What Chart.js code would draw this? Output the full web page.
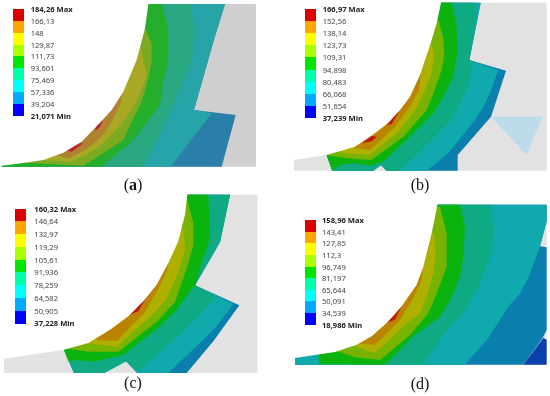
<!DOCTYPE html>
<html>
<head>
<meta charset="utf-8">
<script src="https://cdn.jsdelivr.net/npm/chart.js@4"></script>
<style>
html, body { margin: 0; background: #fff; }
#page { position: relative; width: 550px; height: 396px; overflow: hidden; }
.panel { position: absolute; }
.panel canvas { filter: blur(0.6px); }
.swatch { position: absolute; width: 11px; }
.tick { position: absolute; font: 7.6px "Noto Sans", sans-serif; color: #444; line-height: 10px; white-space: nowrap; transform: translateY(-5px); filter: blur(0.2px); }
.tick.end { font-weight: 700; color: #222; }
.caption { position: absolute; font: 16px "Liberation Serif", serif; color: #111; transform: translateX(-50%); }
</style>
</head>
<body>
<div id="page"></div>
<script>
// stress scale of each model (Max first, Min last)
const ticksA = ['184,26 Max', '166,13', '148', '129,87', '111,73', '93,601', '75,469', '57,336', '39,204', '21,071 Min'];
const ticksB = ['166,97 Max', '152,56', '138,14', '123,73', '109,31', '94,898', '80,483', '66,068', '51,654', '37,239 Min'];
const ticksC = ['160,32 Max', '146,64', '132,97', '119,29', '105,61', '91,936', '78,259', '64,582', '50,905', '37,228 Min'];
const ticksD = ['158,96 Max', '143,41', '127,85', '112,3', '96,749', '81,197', '65,644', '50,091', '34,539', '18,986 Min'];
const scaleColors = ['#dc0000', '#ffa500', '#ffff00', '#aaff00', '#00e600', '#00ffaa', '#00ffff', '#00aaff', '#0000ff'];

// contour outlines in model units
const aBody = [[445,12],[768,12],[768,500],[5,500],[5,497],[200,300]];
const aBlue = [[445,12],[675,12],[640,125],[582,330],[707,345],[665,500],[5,500],[5,497],[200,300]];
const aCyan = [[445,12],[675,12],[640,125],[582,330],[635,340],[512,500],[5,500],[5,497],[200,300]];
const aTeal = [[445,12],[572,12],[585,100],[575,180],[540,270],[510,340],[470,420],[430,500],[5,500],[5,497],[200,300]];
const aGreen = [[445,12],[485,12],[505,85],[505,175],[490,245],[480,315],[440,368],[400,420],[305,500],[5,500],[5,497],[200,300]];
const aLime = [[300,85],[435,85],[455,130],[455,185],[440,255],[425,305],[395,365],[370,420],[250,497],[75,488],[60,400]];
const aOlive = [[300,145],[422,145],[440,225],[410,305],[370,365],[300,440],[215,485],[130,480],[100,400]];
const aOrange = [[300,275],[370,275],[360,315],[335,365],[310,405],[262,446],[205,476],[160,462],[120,400]];
const aRedLow = [[195,450],[215,455],[250,430],[225,430]];
const aRedHigh = [[285,392],[298,384],[310,360],[290,375]];
const aVoid = [[0,0],[445,0],[445,12],[435,85],[410,180],[370,275],[335,330],[300,368],[245,425],[190,458],[130,480],[75,488],[5,497],[0,497]];

const bBody = [[498,8],[815,8],[815,512],[57,512],[57,480],[200,300]];
const bShape = [[498,8],[617,8],[583,180],[693,212],[648,350],[548,465],[548,512],[335,512],[318,495],[295,512],[172,512],[155,465],[100,300]];
const bShard = [[648,350],[802,350],[755,465]];
const bCyan = [[498,8],[617,8],[583,180],[670,210],[645,280],[625,320],[600,360],[520,460],[455,512],[335,512],[318,495],[295,512],[172,512],[155,465],[100,300]];
const bTeal = [[498,8],[600,8],[605,50],[583,180],[593,190],[580,260],[555,310],[530,360],[490,400],[420,470],[375,512],[335,512],[318,495],[295,512],[172,512],[155,465],[100,300]];
const bGreen = [[498,8],[530,8],[545,75],[547,160],[535,230],[505,290],[475,340],[405,410],[325,485],[285,497],[240,490],[195,495],[172,512],[155,465],[100,300]];
const bLime = [[300,60],[490,60],[505,115],[508,165],[500,210],[475,280],[455,330],[385,410],[290,480],[215,475],[155,465],[100,400]];
const bOlive = [[300,135],[470,135],[478,175],[465,235],[440,290],[425,325],[370,395],[285,465],[200,460],[150,400]];
const bOrange = [[300,225],[437,225],[432,270],[405,320],[360,380],[285,450],[240,445],[200,400]];
const bRedLow = [[262,430],[290,424],[305,410],[290,408]];
const bRedHigh = [[335,376],[350,372],[375,330],[350,358]];
const bVoid = [[0,0],[498,0],[498,8],[485,70],[467,130],[435,225],[405,290],[375,330],[340,368],[300,400],[240,440],[155,465],[57,480],[0,480]];

const cBody = [[562,-10],[772,-10],[772,525],[12,525],[12,482],[200,300]];
const cBlue = [[562,-10],[690,-10],[660,132],[585,262],[718,322],[640,430],[560,525],[412,525],[378,490],[312,525],[222,525],[192,455],[100,300]];
const cCyan = [[562,-10],[690,-10],[660,132],[585,262],[700,318],[650,385],[610,425],[505,525],[412,525],[378,490],[312,525],[222,525],[192,455],[100,300]];
const cTeal = [[562,-10],[690,-10],[660,132],[585,262],[650,295],[600,350],[540,410],[470,470],[410,522],[378,490],[312,525],[222,525],[192,455],[100,300]];
const cGreen = [[562,-10],[625,-10],[630,122],[600,212],[585,262],[525,342],[480,385],[370,471],[280,491],[230,486],[205,490],[192,455],[100,300]];
const cLime = [[300,2],[560,2],[580,72],[580,142],[560,212],[525,312],[470,372],[355,461],[265,461],[195,451],[100,300]];
const cOlive = [[300,92],[550,92],[555,152],[535,222],[500,302],[465,342],[450,356],[350,446],[260,436],[150,350]];
const cOrange = [[300,192],[505,192],[500,222],[470,282],[435,342],[350,429],[290,426],[200,350]];
const cRed = [[385,352],[415,340],[440,296],[405,335]];
const cVoid = [[0,-18],[562,-18],[562,-10],[555,50],[535,130],[505,195],[470,260],[430,310],[385,355],[330,395],[265,435],[192,455],[12,482],[0,482]];

const dBody = [[487,20],[815,20],[815,500],[60,500],[60,480],[200,300]];
const dBlue = [[487,20],[815,20],[815,70],[795,145],[815,148],[815,395],[803,420],[745,500],[60,500],[60,480],[200,300]];
const dDeep = [[805,420],[815,425],[815,500],[745,500]];
const dCyan = [[487,20],[815,20],[815,70],[795,145],[760,240],[735,286],[700,326],[640,420],[570,500],[60,500],[60,480],[200,300]];
const dTeal = [[487,20],[645,20],[655,86],[650,166],[610,266],[565,346],[505,410],[445,500],[135,500],[135,470],[200,300]];
const dGreen = [[487,20],[555,20],[570,86],[565,176],[555,236],[530,296],[495,356],[420,410],[330,500],[132,498],[130,470],[200,300]];
const dLime = [[300,26],[495,26],[515,106],[515,206],[485,286],[460,346],[405,411],[315,486],[240,478],[185,459],[150,400]];
const dOlive = [[300,106],[478,106],[482,166],[475,226],[455,296],[435,346],[395,376],[300,466],[230,441],[180,400]];
const dOrange = [[300,196],[445,196],[440,246],[415,300],[375,366],[300,441],[250,436],[200,400]];
const dRed = [[335,375],[360,365],[380,325],[360,350]];
const dVoid = [[0,0],[487,0],[487,20],[480,56],[470,106],[455,165],[445,206],[425,260],[380,325],[335,375],[290,415],[245,440],[180,462],[60,480],[0,480]];

const dullColors = { grey: '#cfcfcf', blue: '#2a7fa8', cyan: '#27a4a8', teal: '#2aa882', green: '#25ad2c', lime: '#7cab22', olive: '#a9a825', orange: '#ae8230', red: '#b8252a' };
const fullColors = { grey: '#e2e2e2', blue: '#0a7fae', cyan: '#0fa9ae', teal: '#0faa84', green: '#0cb30f', lime: '#77b300', olive: '#afaf00', orange: '#bb8400', red: '#c01515' };

function crearPanel(cfg) {
    const page = document.getElementById('page');
    const panel = document.createElement('div');
    panel.className = 'panel';
    panel.style.cssText = `left:${cfg.left}px;top:${cfg.top}px;width:275px;height:${cfg.height}px`;
    const canvas = document.createElement('canvas');
    canvas.width = 275;
    canvas.height = cfg.height;
    panel.appendChild(canvas);
    page.appendChild(panel);

    // first dataset is painted last, so the list goes from top layer to bottom layer
    const datasets = cfg.layers.map(([points, color]) => ({
        data: points.map(([x, y]) => ({ x, y })),
        backgroundColor: color,
        borderColor: color,
        borderWidth: 0,
        pointRadius: 0,
        showLine: true,
        tension: 0,
        fill: 'shape'
    }));

    new Chart(canvas.getContext('2d'), {
        type: 'scatter',
        data: { datasets },
        options: {
            responsive: false,
            animation: false,
            layout: { padding: 0 },
            plugins: { legend: { display: false }, tooltip: { enabled: false } },
            scales: {
                x: { type: 'linear', display: false, min: 0, max: 825 },
                y: { type: 'linear', display: false, reverse: true, min: cfg.yMin, max: 594 }
            }
        }
    });
}

function crearEscala(cfg) {
    const page = document.getElementById('page');
    scaleColors.forEach((color, i) => {
        const s = document.createElement('div');
        s.className = 'swatch';
        s.style.cssText = `left:${cfg.barX}px;top:${cfg.barY + i * cfg.step}px;height:${cfg.step + 0.5}px;background:${color}`;
        page.appendChild(s);
    });
    cfg.ticks.forEach((text, i) => {
        const t = document.createElement('div');
        t.className = (i === 0 || i === cfg.ticks.length - 1) ? 'tick end' : 'tick';
        t.textContent = text;
        t.style.left = cfg.textX + 'px';
        t.style.top = (cfg.barY + i * cfg.step) + 'px';
        page.appendChild(t);
    });
    const cap = document.createElement('div');
    cap.className = 'caption';
    cap.innerHTML = cfg.letter === 'a' ? '(<b>a</b>)' : `(${cfg.letter})`;
    cap.style.left = cfg.capX + 'px';
    cap.style.top = cfg.capY + 'px';
    page.appendChild(cap);
}

const panels = [
    { left: 0, top: 0, height: 198, yMin: 0, layers: [[aVoid, '#fff'], [aRedLow, dullColors.red], [aRedHigh, dullColors.red], [aOrange, dullColors.orange], [aOlive, dullColors.olive], [aLime, dullColors.lime], [aGreen, dullColors.green], [aTeal, dullColors.teal], [aCyan, dullColors.cyan], [aBlue, dullColors.blue], [aBody, dullColors.grey]] },
    { left: 275, top: 0, height: 198, yMin: 0, layers: [[bVoid, '#fff'], [bRedLow, fullColors.red], [bRedHigh, fullColors.red], [bOrange, fullColors.orange], [bOlive, fullColors.olive], [bLime, fullColors.lime], [bGreen, fullColors.green], [bTeal, fullColors.teal], [bCyan, fullColors.cyan], [bShape, fullColors.blue], [bShard, '#bcdcec'], [bBody, fullColors.grey]] },
    { left: 0, top: 192, height: 204, yMin: -18, layers: [[cVoid, '#fff'], [cRed, fullColors.red], [cOrange, fullColors.orange], [cOlive, fullColors.olive], [cLime, fullColors.lime], [cGreen, fullColors.green], [cTeal, fullColors.teal], [cCyan, fullColors.cyan], [cBlue, fullColors.blue], [cBody, fullColors.grey]] },
    { left: 275, top: 198, height: 198, yMin: 0, layers: [[dVoid, '#fff'], [dRed, fullColors.red], [dOrange, fullColors.orange], [dOlive, fullColors.olive], [dLime, fullColors.lime], [dGreen, fullColors.green], [dTeal, fullColors.teal], [dDeep, '#0a3fae'], [dCyan, fullColors.cyan], [dBlue, fullColors.blue], [dBody, fullColors.grey]] }
];

const scales = [
    { ticks: ticksA, barX: 13.3, barY: 9, step: 11.87, textX: 30.7, letter: 'a', capX: 133, capY: 176 },
    { ticks: ticksB, barX: 305, barY: 9, step: 12.1, textX: 322.7, letter: 'b', capX: 420, capY: 176 },
    { ticks: ticksC, barX: 15.3, barY: 208.7, step: 12.73, textX: 34.3, letter: 'c', capX: 133, capY: 374 },
    { ticks: ticksD, barX: 305, barY: 220, step: 11.63, textX: 322, letter: 'd', capX: 420, capY: 375 }
];

panels.forEach(crearPanel);
scales.forEach(crearEscala);
</script>
</body>
</html>
